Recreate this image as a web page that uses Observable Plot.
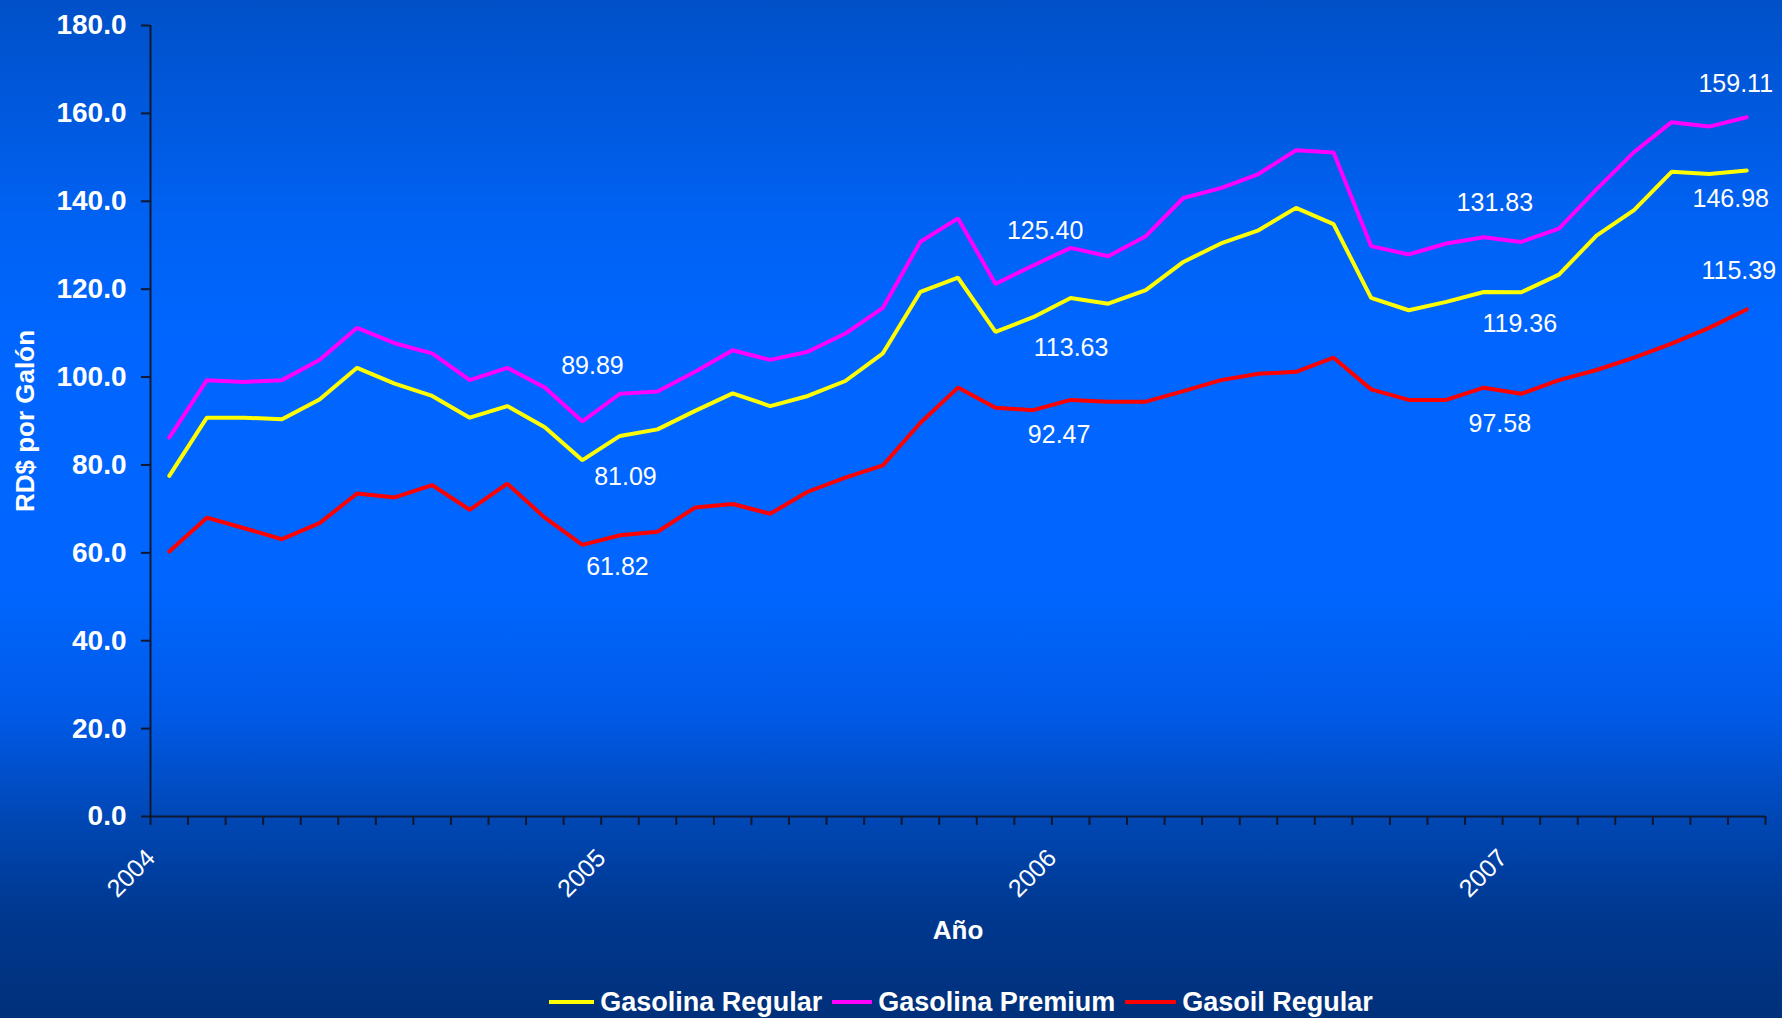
<!DOCTYPE html>
<html>
<head>
<meta charset="utf-8">
<script src="https://cdn.jsdelivr.net/npm/d3@7"></script>
<script src="https://cdn.jsdelivr.net/npm/@observablehq/plot@0.6"></script>
<style>
  html, body { margin: 0; padding: 0; width: 1782px; height: 1018px; overflow: hidden; }
  body {
    font-family: "Liberation Sans", Arial, sans-serif;
    background: linear-gradient(to bottom, #0050c8 0%, #0062f4 22%, #0066ff 33%, #0066ff 58%, #005ae8 70%, #0046b2 81%, #00388f 90%, #00307a 100%);
  }
  #legend {
    display: flex; justify-content: center; align-items: center;
    height: 54px; color: #fff; font-weight: bold; font-size: 27px;
    padding-left: 140px; box-sizing: border-box; width: 1782px;
  }
  .item { display: flex; align-items: center; margin: 0 5px; }
  .sw { height: 4px; margin-right: 6px; }
</style>
</head>
<body>
<div id="chart"></div>
<div id="legend"></div>
<script>
// ---- data (monthly, Jan 2004 – Jul 2007), RD$ por galón ----
const years = ["2004", "2005", "2006", "2007"];
const seriesNames = ["Gasolina Regular", "Gasolina Premium", "Gasoil Regular"];
const seriesColors = ["#ffff00", "#ff00ff", "#ff0000"];

const regular = [77.5, 90.75, 90.75, 90.4, 94.9, 102.1, 98.5, 95.7, 90.75, 93.4, 88.6, 81.09,
  86.6, 88.1, 92.3, 96.3, 93.4, 95.7, 99.1, 105.4, 119.4, 122.6, 110.3, 113.63,
  118.0, 116.7, 119.8, 126.2, 130.4, 133.4, 138.5, 134.8, 118.0, 115.2, 117.1, 119.36,
  119.3, 123.3, 132.2, 138.0, 146.7, 146.2, 146.98];

const premium = [86.2, 99.3, 98.9, 99.3, 103.9, 111.2, 107.7, 105.4, 99.3, 102.1, 97.6, 89.89,
  96.2, 96.7, 101.2, 106.1, 103.9, 105.75, 109.9, 115.75, 130.8, 136.1, 121.2, 125.40,
  129.4, 127.5, 132.05, 140.75, 143.0, 146.2, 151.6, 151.1, 129.8, 127.9, 130.4, 131.83,
  130.75, 133.8, 142.7, 151.2, 158.0, 157.0, 159.11];

const gasoil = [60.3, 68.0, 65.6, 63.1, 66.75, 73.5, 72.6, 75.4, 69.8, 75.75, 68.0, 61.82,
  64.0, 64.8, 70.3, 71.1, 68.9, 73.9, 77.1, 79.9, 89.6, 97.6, 93.0, 92.47,
  94.8, 94.4, 94.4, 96.8, 99.3, 100.75, 101.2, 104.4, 97.2, 94.8, 94.8, 97.58,
  96.2, 99.3, 101.6, 104.4, 107.6, 111.2, 115.39];

const labeledMonths = [11, 23, 35, 42];   // months whose values are printed
const yTicks = [0, 20, 40, 60, 80, 100, 120, 140, 160, 180];

// label placement offsets (px) per series, per labeled month
const labelOffsets = [
  [[43, 17], [38, 31], [36, 32], [-16, 28]],     // regular
  [[10, -55], [12, -34], [11, -34], [-11, -33]], // premium
  [[35, 22], [26, 25], [16, 36], [-8, -38]]      // gasoil
];
const legendSwatchWidths = [45, 40, 51];

const allSeries = [regular, premium, gasoil];
const nMonths = regular.length;
const FONT = "Liberation Sans, Arial, sans-serif";
const AXIS = "#101830";

const labelMarks = [];
allSeries.forEach((vals, s) => {
  labeledMonths.forEach((m, k) => {
    labelMarks.push(Plot.text([vals[m]], {
      x: () => m + 0.5, y: d => d, text: d => d.toFixed(2),
      dx: labelOffsets[s][k][0], dy: labelOffsets[s][k][1],
      fill: "white", fontSize: 25, fontFamily: FONT
    }));
  });
});

const chart = Plot.plot({
  width: 1782,
  height: 975,
  marginLeft: 150,
  marginRight: 17,
  marginTop: 25,
  marginBottom: 159,
  style: { background: "transparent", color: "white", overflow: "visible" },
  x: { type: "linear", domain: [0, nMonths], axis: null },
  y: { type: "linear", domain: [0, 180], axis: null },
  marks: [
    Plot.axisY({
      ticks: yTicks, tickFormat: d3.format(".1f"), tickSize: 9, tickPadding: 15,
      stroke: AXIS, strokeWidth: 2, fill: "white",
      fontSize: 28, fontWeight: "bold", fontFamily: FONT, label: null
    }),
    Plot.axisX({
      ticks: d3.range(0, nMonths + 1), tickFormat: () => "", tickSize: 9,
      stroke: AXIS, strokeWidth: 2, label: null
    }),
    Plot.ruleX([0], { stroke: AXIS, strokeWidth: 2 }),
    Plot.ruleY([0], { stroke: AXIS, strokeWidth: 2 }),
    // year labels
    Plot.text(years, {
      x: (d, i) => i * 12, frameAnchor: "bottom", text: d => d,
      rotate: -45, textAnchor: "end", dy: 43, dx: 6,
      fill: "white", fontSize: 25, fontFamily: FONT
    }),
    // axis titles
    Plot.text(["Año"], {
      frameAnchor: "bottom", dy: 122, text: d => d, fill: "white",
      fontSize: 26, fontWeight: "bold", fontFamily: FONT
    }),
    Plot.text(["RD$ por Galón"], {
      frameAnchor: "left", textAnchor: "middle", dx: -125, rotate: -90, text: d => d, fill: "white",
      fontSize: 26, fontWeight: "bold", fontFamily: FONT
    }),
    // lines
    ...allSeries.map((vals, s) => Plot.line(vals, {
      x: (d, i) => i + 0.5, y: d => d, stroke: seriesColors[s], strokeWidth: 4,
      strokeLinejoin: "miter"
    })),
    ...labelMarks
  ]
});

document.getElementById("chart").appendChild(chart);

const legend = document.getElementById("legend");
seriesNames.forEach((name, s) => {
  const item = document.createElement("div");
  item.className = "item";
  const sw = document.createElement("div");
  sw.className = "sw";
  sw.style.background = seriesColors[s];
  sw.style.width = legendSwatchWidths[s] + "px";
  const t = document.createElement("span");
  t.textContent = name;
  item.appendChild(sw);
  item.appendChild(t);
  legend.appendChild(item);
});
</script>
</body>
</html>
